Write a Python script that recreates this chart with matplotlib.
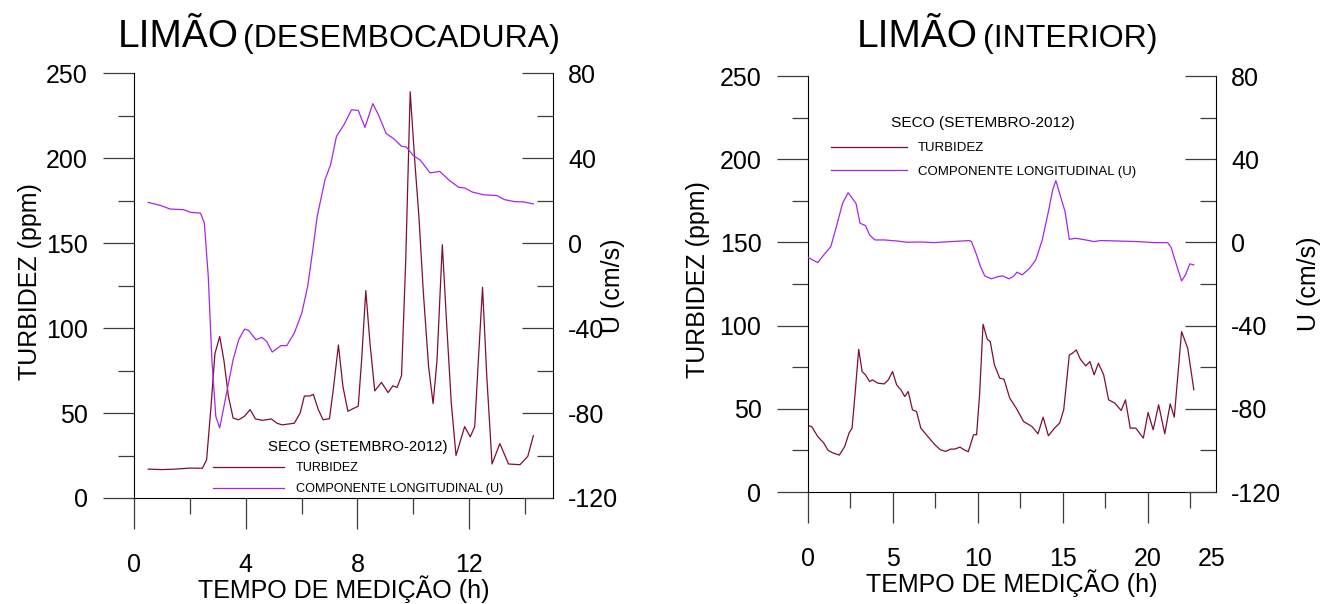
import matplotlib
matplotlib.use('Agg')
import matplotlib.pyplot as plt
from matplotlib.ticker import MultipleLocator, FixedLocator

plt.rcParams['font.family'] = ['Liberation Sans', 'DejaVu Sans']
plt.rcParams['axes.unicode_minus'] = False

# ---- data: LIMAO desembocadura (left) ----
t_turb_d = [0.51, 1.0, 1.5, 2.0, 2.45, 2.6, 2.75, 2.9, 3.07, 3.22, 3.38, 3.55, 3.75, 3.95,
            4.16, 4.35, 4.6, 4.92, 5.12, 5.3, 5.74, 5.95, 6.1, 6.3, 6.42, 6.6, 6.77, 7.0,
            7.15, 7.32, 7.48, 7.66, 7.86, 8.03, 8.15, 8.3, 8.45, 8.62, 8.86, 9.1, 9.27,
            9.42, 9.58, 9.73, 9.89, 10.05, 10.2, 10.36, 10.55, 10.71, 10.85, 11.04, 11.2,
            11.36, 11.53, 11.84, 12.04, 12.2, 12.33, 12.48, 12.63, 12.82, 13.1, 13.41,
            13.82, 14.1, 14.3]
turb_d = [17, 16.7, 17, 17.6, 17.5, 22.5, 52, 85, 95, 81, 60, 47, 46, 48,
          52, 46.5, 45.7, 46.5, 44, 43, 44, 50, 60, 60, 61, 52, 46, 46.7,
          65.7, 90, 65.7, 51, 52.7, 54, 81, 122, 91, 63, 68, 62, 66,
          65, 72, 140, 239, 199, 166, 121, 77, 55.5, 81, 149, 101,
          56, 25, 42, 36, 42, 81, 124, 72, 20, 32, 20,
          19.6, 24.5, 36.7]

t_u_d = [0.51, 0.95, 1.29, 1.77, 2.04, 2.38, 2.52, 2.66, 2.79, 2.93, 3.07, 3.27, 3.55,
         3.75, 3.96, 4.1, 4.37, 4.58, 4.75, 4.95, 5.26, 5.47, 5.74, 6.01, 6.22, 6.42,
         6.56, 6.84, 7.04, 7.25, 7.52, 7.79, 8.03, 8.27, 8.55, 8.75, 9.03, 9.3, 9.58,
         9.75, 9.99, 10.26, 10.6, 10.95, 11.29, 11.63, 11.84, 12.11, 12.52, 13.0,
         13.27, 13.62, 13.96, 14.3]
u_d = [19.1, 17.7, 16.0, 15.7, 14.4, 14.1, 9.4, -15.7, -54.9, -81.6, -87.0, -73.7, -54.9,
       -45.5, -40.5, -41.1, -45.5, -44.4, -46.3, -51.3, -48.3, -48.3, -42.4, -32.9, -20.4, -1.6,
       12.5, 29.8, 36.9, 50.2, 55.7, 62.7, 62.4, 54.4, 65.6, 60.4, 51.5, 49.1, 45.5,
       45.2, 41.3, 38.9, 33.0, 33.7, 29.5, 26.2, 25.9, 24.0, 22.7, 22.3,
       20.4, 19.5, 19.3, 18.4]

# ---- data: LIMAO interior (right) ----
t_turb_i = [0, 0.23, 0.59, 0.95, 1.2, 1.51, 1.86, 2.18, 2.43, 2.61,
            2.79, 3.0, 3.2, 3.4, 3.64, 3.81, 4.13, 4.5, 4.74, 4.99,
            5.23, 5.48, 5.71, 5.91, 6.16, 6.4, 6.65, 7.06, 7.48, 7.8,
            8.11, 8.41, 8.65, 8.95, 9.19, 9.44, 9.75, 9.93, 10.11, 10.31,
            10.56, 10.73, 10.98, 11.29, 11.54, 11.88, 12.26, 12.69, 13.18, 13.54,
            13.84, 14.15, 14.51, 14.81, 15.05, 15.38, 15.56, 15.79, 16.03, 16.35,
            16.59, 16.84, 17.09, 17.4, 17.69, 18.06, 18.43, 18.68, 18.96, 19.29,
            19.73, 20.01, 20.31, 20.63, 20.99, 21.31, 21.55, 21.98, 22.34, 22.7]
turb_i = [40, 39.4, 33.4, 29.4, 25, 23.4, 22.2, 27.4, 35.4, 38.4,
          59.4, 85.8, 72.4, 70.4, 66.4, 67.4, 65.4, 65, 67.4, 72.4,
          64.4, 61.4, 57.4, 60.4, 49.4, 48.4, 38.4, 33.4, 28.4, 25.4,
          24.4, 25.8, 25.8, 27, 25.4, 24.2, 34.4, 34.4, 59.4, 100.8,
          91.8, 90.4, 76.4, 68.4, 67.8, 56.4, 50.4, 42.4, 39.4, 35,
          45, 33.8, 38.4, 41.4, 49.4, 82.4, 83.4, 85.4, 79.8, 75.8,
          78.4, 70.4, 77.4, 70.4, 55.4, 53.4, 49, 55.4, 38.4, 38.4,
          32.4, 47.8, 37.4, 52.4, 35, 53, 45, 96.4, 86.4, 61.4]

t_u_i = [0, 0.29, 0.59, 0.95, 1.36, 1.69, 2.05, 2.38, 2.66, 2.84,
         3.08, 3.4, 3.64, 3.96, 4.5, 5.23, 5.84, 6.7, 7.43, 8.41,
         9.5, 9.63, 9.93, 10.16, 10.41, 10.8, 11.21, 11.46, 11.83, 12.08,
         12.31, 12.61, 13.05, 13.41, 13.79, 14.15, 14.4, 14.59, 14.81, 15.13,
         15.38, 15.74, 16.35, 16.84, 17.2, 18.19, 19.4, 20.38, 21.16, 21.36,
         21.65, 21.98, 22.21, 22.46, 22.7]
u_i = [-7.1, -8.4, -9.7, -6, -2, 7.6, 18.8, 23.9, 20.8, 18.8,
       9.2, 8.1, 3.6, 1.2, 1.2, 0.7, 0.1, 0.2, -0.1, 0.4,
       0.9, 0.4, -6, -11.6, -16.1, -17.5, -16.4, -16.1, -17.5, -16.4,
       -14.3, -15.6, -12.4, -8.4, 1.2, 14.8, 25.2, 29.7, 23.6, 14.8,
       1.5, 2, 1.2, 0.4, 0.9, 0.7, 0.4, -0.1, -0.1, -2.3,
       -10, -18.5, -15.6, -10.3, -10.8]

c_turb = '#7d0f33'
c_u = '#a826e6'
tick_col = '#3c3c3c'

fig = plt.figure(figsize=(13.33, 6.04), dpi=100)


def panel(rect, t1, y1, t2, y2, xmax, xmaj, xmin, leg_anchor, leg_size, title_size,
          hlen, hpad, lspace, ylab_x, ylab2_x):
    ax = fig.add_axes(rect)
    ax2 = ax.twinx()
    l1, = ax.plot(t1, y1, color=c_turb, lw=0.9)
    l2, = ax2.plot(t2, y2, color=c_u, lw=0.9)

    ax.set_xlim(0, xmax)
    ax.set_ylim(0, 250)
    ax2.set_ylim(-120, 80)
    ax.xaxis.set_major_locator(FixedLocator(xmaj))
    ax.xaxis.set_minor_locator(MultipleLocator(xmin))
    ax.yaxis.set_major_locator(MultipleLocator(50))
    ax.yaxis.set_minor_locator(MultipleLocator(25))
    ax2.yaxis.set_major_locator(MultipleLocator(40))
    ax2.yaxis.set_minor_locator(MultipleLocator(20))

    for s in ['top', 'right']:
        ax.spines[s].set_visible(False)
    for s in ['top', 'left', 'bottom']:
        ax2.spines[s].set_visible(False)
    for s in ['left', 'bottom']:
        ax.spines[s].set_linewidth(0.8)
    ax2.spines['right'].set_linewidth(0.8)

    ax.tick_params(axis='both', which='major', direction='out', length=22.3, width=0.9,
                   color=tick_col, labelsize=18)
    ax.tick_params(axis='both', which='minor', direction='out', length=11.2, width=0.9,
                   color=tick_col)
    ax.tick_params(axis='y', which='major', pad=11)
    ax.tick_params(axis='x', which='major', pad=17)
    ax2.tick_params(axis='y', which='major', direction='in', length=22.3, width=0.9,
                    color=tick_col, labelsize=18, pad=11)
    ax2.tick_params(axis='y', which='minor', direction='in', length=11.2, width=0.9,
                    color=tick_col)

    ax.set_xlabel('TEMPO DE MEDIÇÃO (h)', fontsize=18, labelpad=-1)
    ax.set_ylabel('TURBIDEZ (ppm)', fontsize=18)
    ax2.set_ylabel('U (cm/s)', fontsize=18)
    ax.yaxis.set_label_coords(ylab_x, 0.51)
    ax2.yaxis.set_label_coords(ylab2_x, 0.50)

    ax2.legend([l1, l2], ['TURBIDEZ', 'COMPONENTE LONGITUDINAL (U)'],
               title='SECO (SETEMBRO-2012)', title_fontsize=title_size,
               fontsize=leg_size, loc='upper left', bbox_to_anchor=leg_anchor,
               frameon=False, handlelength=hlen, handletextpad=hpad,
               labelspacing=lspace, borderpad=0, borderaxespad=0)
    return ax, ax2


# left panel
axl, axl2 = panel([0.1005, 0.1755, 0.3143, 0.7036], t_turb_d, turb_d, t_u_d, u_d,
                  15, [0, 4, 8, 12], 2, (0.1885, 0.137), 9.1, 10.8,
                  5.6, 0.95, 0.68, -0.22, 1.115)

# right panel
axr, axr2 = panel([0.6059, 0.1854, 0.3063, 0.6887], t_turb_i, turb_i, t_u_i, u_i,
                  24, [0, 5, 10, 15, 20], 2.5, (0.0564, 0.903), 9.5, 11.1,
                  5.75, 0.83, 0.88, -0.24, 1.199)
axr.annotate('25', xy=(1, 0), xycoords='axes fraction', xytext=(-3, -39.5),
             textcoords='offset points', ha='center', va='top', fontsize=18)

# titles
fig.text(0.0885, 0.922, 'LIMÃO', fontsize=28, va='baseline')
fig.text(0.1823, 0.922, '(DESEMBOCADURA)', fontsize=23, va='baseline')
fig.text(0.643, 0.922, 'LIMÃO', fontsize=28, va='baseline')
fig.text(0.7374, 0.922, '(INTERIOR)', fontsize=23, va='baseline')

fig.savefig('out.png', dpi=100)
